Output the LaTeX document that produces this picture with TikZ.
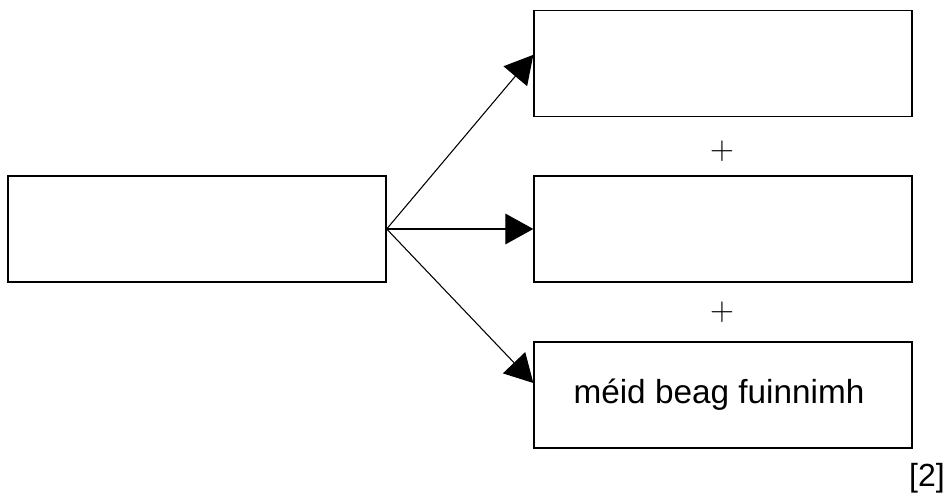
\documentclass[tikz,border=0pt]{standalone}
\usepackage{fontspec}
\setmainfont{Liberation Sans}
\usetikzlibrary{arrows.meta}

\begin{document}
\begin{tikzpicture}[
            x=0.75pt, y=0.75pt,
            box/.style={draw, line width=1pt, inner sep=0,
                minimum width=283.5pt, minimum height=79.5pt},
            arr/.style={line width=0.8pt, -{Triangle[length=21pt, width=23pt]}},
            font=\fontsize{25}{30}\selectfont]
        \useasboundingbox (0,0) rectangle (946,498);

        \node (src) [box] at (197,269) {};
        \node (top) [box] at (723,434.5) {};
        \node (mid) [box] at (723,269) {};
        \node (bot) [box] at (723,103) {\hspace*{-6pt}méid beag fuinnimh};

        \draw [arr] (src.east) -- ([yshift=6.5pt]top.west);
        \draw [arr] (src.east) -- (mid.west);
        \draw [arr] (src.east) -- ([yshift=9pt]bot.west);

        \node (p1) at (722,347) {$+$};
        \node (p2) at (722,186) {$+$};

        \node (mark) at (927,20) {\fontsize{24}{28}\selectfont [2]};
    \end{tikzpicture}
\end{document}
